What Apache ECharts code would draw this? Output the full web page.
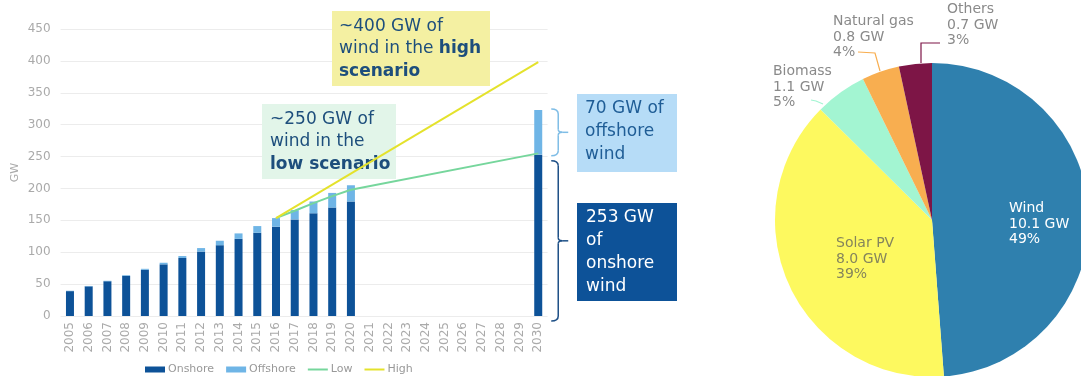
<!DOCTYPE html>
<html>
<head>
<meta charset="utf-8">
<script src="https://cdn.jsdelivr.net/npm/echarts@6/dist/echarts.min.js"></script>
<style>
  html, body { margin: 0; padding: 0; background: #ffffff; }
  #chart { width: 1081px; height: 376px; }
</style>
</head>
<body>
<div id="chart"></div>
<script>
// Installed wind capacity (GW), history to 2020 and the 2030 target
const years = ['2005','2006','2007','2008','2009','2010','2011','2012','2013','2014','2015','2016','2017',
               '2018','2019','2020','2021','2022','2023','2024','2025','2026','2027','2028','2029','2030'];
const onshore  = [39, 46.5, 54.5, 63, 72.5, 81, 91, 101, 111, 121, 130.5, 140, 151.5, 161, 170, 179.5,
                  null, null, null, null, null, null, null, null, null, 253];
const offshore = [0.6, 0.6, 0.7, 1, 1.5, 2.5, 3, 5.5, 7, 8.5, 10.5, 13.5, 14.5, 18.5, 23, 25.5,
                  null, null, null, null, null, null, null, null, null, 70];
// Scenario paths (only the known points; the gap to 2030 is bridged by the line)
const lowScenario  = [null, null, null, null, null, null, null, null, null, null, null, 153.5, 165, 177, 188, 198,
                      null, null, null, null, null, null, null, null, null, 255];
const highScenario = [null, null, null, null, null, null, null, null, null, null, null, 153.5, null, null, null, null,
                      null, null, null, null, null, null, null, null, null, 398];
const yTicks = { min: 0, max: 450, interval: 50 };

// Capacity by technology (GW)
const sources = ['Wind', 'Solar PV', 'Biomass', 'Natural gas', 'Others'];
const capacityGW = [10.1, 8.0, 1.1, 0.8, 0.7];

const FONT = 'DejaVu Sans';
const C = {
  onshore: '#0d5298', offshore: '#6fb5e6', low: '#76d69c', high: '#e4e22c',
  axisText: '#aaaaaa', grid: '#ececec', boxText: '#1d4e7c'
};
const sliceColors = ['#2f80ae', '#fdf95f', '#a3f5d2', '#f8ae50', '#7d1546'];
const sliceText = ['#ffffff', '#85855c', '#8a8a8a', '#8a8a8a', '#8a8a8a'];
const LINE_ICON = 'path://M0,0 L20,0 L20,2 L0,2 Z';

// Where each slice label sits, and the leader line for the small slices
const pieLabelSpots = [
  { x: 1009, y: 201, line: null },
  { x: 836, y: 236, line: null },
  { x: 773, y: 64, line: [[823, 104], [816, 101], [811, 100]] },
  { x: 833, y: 14, line: [[880, 71], [875, 53], [858, 52]] },
  { x: 947, y: 2, line: [[921, 63], [921, 43], [940, 43]] }
];

const chart = echarts.init(document.getElementById('chart'), null, { renderer: 'canvas' });

function box(id, x, y, w, h, fill, textX, textY, text, color, lh, rich) {
  return [
    { id: id + '-bg', type: 'rect', z: 1, shape: { x: x, y: y, width: w, height: h }, style: { fill: fill } },
    { id: id + '-tx', type: 'text', z: 1, x: textX, y: textY,
      style: { text: text, fill: color, fontFamily: FONT, fontSize: 17, lineHeight: lh,
               verticalAlign: 'top', align: 'left', rich: rich || {} } }
  ];
}
const boldRich = { b: { fontFamily: FONT, fontSize: 17, fontWeight: 'bold', fill: C.boxText, lineHeight: 22.5 } };

const notes = [].concat(
  box('high', 332, 11, 158, 75, '#f4f0a2', 339, 15, '~400 GW of\nwind in the {b|high}\n{b|scenario}', C.boxText, 22.5, boldRich),
  box('low', 262, 104, 134, 75, '#e2f5e9', 270, 108, '~250 GW of\nwind in the\n{b|low scenario}', C.boxText, 22.5, boldRich),
  box('off', 577, 94, 100, 78, '#b6dcf7', 585, 97, '70 GW of\noffshore\nwind', '#1f5d96', 23, null),
  box('on', 577, 203, 100, 98, '#0d5298', 586, 206, '253 GW\nof\nonshore\nwind', '#ffffff', 22.9, null)
);

chart.setOption({
  animation: false,
  textStyle: { fontFamily: FONT },
  grid: { left: 60.6, right: 533.4, top: 29, bottom: 60, containLabel: false },
  legend: {
    left: 145, top: 364, padding: 0, itemWidth: 20, itemHeight: 6, itemGap: 12,
    textStyle: { color: '#999999', fontSize: 11, fontFamily: FONT, padding: [0, 0, 0, -2] },
    data: [
      { name: 'Onshore', icon: 'rect' },
      { name: 'Offshore', icon: 'rect' },
      { name: 'Low', icon: LINE_ICON },
      { name: 'High', icon: LINE_ICON }
    ]
  },
  xAxis: {
    type: 'category', data: years, boundaryGap: true,
    axisLine: { show: false }, axisTick: { show: false },
    axisLabel: { rotate: 90, interval: 0, color: C.axisText, fontSize: 12, margin: 6, fontFamily: FONT }
  },
  yAxis: {
    type: 'value', min: yTicks.min, max: yTicks.max, interval: yTicks.interval,
    name: 'GW', nameLocation: 'middle', nameGap: 40, nameRotate: 90,
    nameTextStyle: { color: C.axisText, fontSize: 11, fontFamily: FONT },
    axisLine: { show: false }, axisTick: { show: false },
    axisLabel: { color: C.axisText, fontSize: 12, margin: 10, fontFamily: FONT },
    splitLine: { lineStyle: { color: C.grid, width: 1 } }
  },
  series: [
    { name: 'Onshore', type: 'bar', stack: 'wind', data: onshore, barWidth: 8,
      itemStyle: { color: C.onshore } },
    { name: 'Offshore', type: 'bar', stack: 'wind', data: offshore, barWidth: 8,
      itemStyle: { color: C.offshore } },
    { name: 'Low', type: 'line', data: lowScenario, connectNulls: true, symbol: 'none', z: 3,
      lineStyle: { color: C.low, width: 2 }, itemStyle: { color: C.low } },
    { name: 'High', type: 'line', data: highScenario, connectNulls: true, symbol: 'none', z: 3,
      lineStyle: { color: C.high, width: 2 }, itemStyle: { color: C.high } },
    {
      name: 'Capacity', type: 'pie', center: [932, 220], radius: 157, startAngle: 90, clockwise: true,
      avoidLabelOverlap: false, percentPrecision: 0,
      data: sources.map(function (s, i) {
        return {
          name: s, value: capacityGW[i],
          itemStyle: { color: sliceColors[i] },
          label: { color: sliceText[i] },
          labelLine: { show: !!pieLabelSpots[i].line }
        };
      }),
      label: {
        show: true, position: 'outside', fontFamily: FONT, fontSize: 14, lineHeight: 15.5,
        formatter: function (p) { return p.name + '\n' + p.value.toFixed(1) + ' GW\n' + p.percent + '%'; }
      },
      labelLine: { show: true, smooth: false, length: 10, length2: 10, lineStyle: { width: 1.2 } },
      labelLayout: function (p) {
        const spot = pieLabelSpots[p.dataIndex];
        const out = { x: spot.x, y: spot.y, align: 'left', verticalAlign: 'top' };
        if (spot.line) out.labelLinePoints = spot.line;
        return out;
      }
    }
  ],
  graphic: notes
});

// Curly brace beside the 2030 bar, built from curve and line pieces
function brace(id, x, y1, y2, color) {
  const ym = (y1 + y2) / 2, dx = 7, tip = x + 17;
  const st = { stroke: color, lineWidth: 1.5, fill: null };
  return [
    { id: id + '-a', type: 'bezierCurve', z: 1, style: st,
      shape: { x1: x, y1: y1, cpx1: x + dx, cpy1: y1, x2: x + dx, y2: y1 + 5 } },
    { id: id + '-b', type: 'line', z: 1, style: st,
      shape: { x1: x + dx, y1: y1 + 5, x2: x + dx, y2: ym - 3 } },
    { id: id + '-c', type: 'bezierCurve', z: 1, style: st,
      shape: { x1: x + dx, y1: ym - 3, cpx1: x + dx, cpy1: ym, x2: x + dx + 4, y2: ym } },
    { id: id + '-d', type: 'line', z: 1, style: st,
      shape: { x1: x + dx + 4, y1: ym, x2: tip, y2: ym } },
    { id: id + '-e', type: 'bezierCurve', z: 1, style: st,
      shape: { x1: x + dx + 4, y1: ym, cpx1: x + dx, cpy1: ym, x2: x + dx, y2: ym + 3 } },
    { id: id + '-f', type: 'line', z: 1, style: st,
      shape: { x1: x + dx, y1: ym + 3, x2: x + dx, y2: y2 - 5 } },
    { id: id + '-g', type: 'bezierCurve', z: 1, style: st,
      shape: { x1: x + dx, y1: y2 - 5, cpx1: x + dx, cpy1: y2, x2: x, y2: y2 } }
  ];
}
const last = years.length - 1;
const total2030 = onshore[last] + offshore[last];
const pTop = chart.convertToPixel({ gridIndex: 0 }, [years[last], total2030]);
const pMid = chart.convertToPixel({ gridIndex: 0 }, [years[last], onshore[last]]);
const pBase = chart.convertToPixel({ gridIndex: 0 }, [years[last], 0]);
const bx = pTop[0] + 13;
chart.setOption({
  graphic: [].concat(
    brace('brace-off', bx, pTop[1] - 1, pMid[1] + 1, '#7fbde6'),
    brace('brace-on', bx, pMid[1] + 6, pBase[1] + 5, '#1d4f86')
  )
});
</script>
</body>
</html>
